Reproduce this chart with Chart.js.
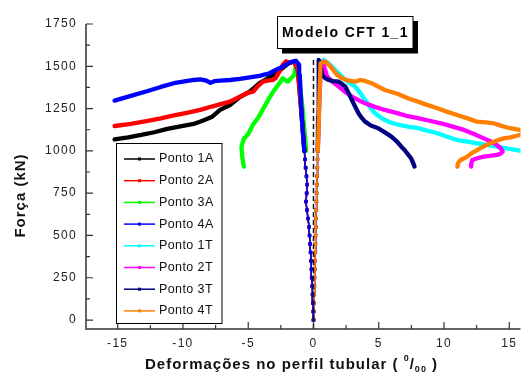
<!DOCTYPE html>
<html><head><meta charset="utf-8">
<script src="https://cdn.jsdelivr.net/npm/chart.js@4.4.1/dist/chart.umd.min.js"></script>
<style>html,body{margin:0;padding:0;background:#fff;overflow:hidden}#wrap{width:523px;height:373px}</style>
</head><body><div id="wrap"><canvas id="c" width="523" height="373"></canvas></div>
<script>
// ---- data (strain ‰, force kN) ----
const seriesNames = ['Ponto 1A','Ponto 2A','Ponto 3A','Ponto 4A','Ponto 1T','Ponto 2T','Ponto 3T','Ponto 4T'];
const seriesColors = ['#000000','#ff0000','#00ff00','#0000ff','#00ffff','#ff00ff','#000080','#ff8000'];
const xTicks = [-15,-10,-5,0,5,10,15];
const xMinorTicks = [-12.5,-7.5,-2.5,2.5,7.5,12.5];
const yTicks = [0,250,500,750,1000,1250,1500,1750];
const yMinorTicks = [125,375,625,875,1125,1375,1625];

const elasticA = [[0,0],[-0.02,50],[-0.04,100],[-0.07,150],[-0.10,200],[-0.13,250],[-0.16,300],[-0.19,350],[-0.22,400],[-0.26,450],[-0.30,500],[-0.34,550],[-0.42,600],[-0.50,650],[-0.58,700],[-0.52,750],[-0.49,800],[-0.54,850],[-0.60,900],[-0.65,950],[-0.70,1000]];
const elasticT = [[0,0],[0.02,50],[0.03,100],[0.05,150],[0.06,200],[0.08,250],[0.10,300],[0.11,350],[0.13,400],[0.14,450],[0.16,500],[0.18,550],[0.19,600],[0.21,650],[0.22,700],[0.24,750],[0.26,800],[0.27,850],[0.29,900],[0.31,950],[0.33,1000]];

const post1A = [[-0.95,1250],[-1.2,1480],[-1.48,1528],[-1.85,1522],[-2.36,1490],[-2.8,1460],[-3.12,1449],[-3.6,1425],[-4.13,1400],[-4.89,1350],[-5.64,1318],[-6.4,1271],[-7.16,1242],[-7.8,1200],[-8.45,1179],[-9.18,1159],[-10.2,1145],[-11.2,1130],[-12.2,1110],[-13.2,1094],[-14.2,1080],[-15.24,1068]];
const post2A = [[-0.95,1250],[-1.2,1480],[-1.48,1528],[-1.86,1518],[-2.1,1530],[-2.36,1508],[-2.6,1470],[-2.9,1430],[-3.12,1419],[-3.5,1415],[-3.88,1409],[-4.3,1380],[-4.6,1352],[-5.14,1340],[-5.64,1320],[-6.4,1291],[-6.9,1281],[-7.8,1262],[-8.67,1242],[-9.7,1225],[-10.7,1210],[-11.7,1192],[-12.7,1177],[-14.0,1160],[-15.24,1147]];
const post3A = [[-0.55,1000],[-0.9,1300],[-1.3,1520],[-1.48,1449],[-1.98,1409],[-2.36,1429],[-2.61,1400],[-3.0,1360],[-3.4,1310],[-3.88,1245],[-4.2,1200],[-4.64,1155],[-5.0,1100],[-5.35,1070],[-5.52,1025],[-5.45,960],[-5.34,907]];
const post4A = [[-0.9,1200],[-1.05,1450],[-1.1,1508],[-1.35,1533],[-1.7,1525],[-2.0,1515],[-2.36,1498],[-2.9,1478],[-3.37,1459],[-4.13,1443],[-5.64,1425],[-6.4,1419],[-7.16,1415],[-7.6,1412],[-7.9,1402],[-8.2,1415],[-8.67,1423],[-9.18,1419],[-10.0,1410],[-10.7,1400],[-11.7,1378],[-12.7,1354],[-14.0,1325],[-15.24,1297]];
const post1T = [[0.4,1200],[0.55,1500],[0.8,1538],[1.1,1520],[1.42,1498],[1.9,1460],[2.44,1419],[2.8,1400],[3.2,1380],[3.6,1340],[3.95,1301],[4.3,1262],[4.71,1222],[5.1,1200],[5.47,1183],[6.0,1165],[6.48,1155],[7.23,1143],[8.0,1134],[8.7,1120],[9.5,1104],[10.2,1085],[11.0,1064],[11.8,1055],[12.54,1045],[13.3,1035],[14.05,1025],[14.9,1013],[15.8,1001],[16.5,990]];
const post2T = [[0.4,1200],[0.55,1480],[0.67,1528],[0.85,1490],[1.05,1439],[1.5,1405],[1.93,1380],[2.4,1350],[2.94,1321],[3.45,1300],[3.95,1281],[4.7,1260],[5.47,1242],[6.48,1222],[7.23,1205],[8.0,1193],[8.9,1178],[9.76,1163],[10.6,1145],[11.53,1124],[12.3,1100],[13.05,1074],[13.6,1055],[14.05,1035],[14.4,1010],[14.5,995],[14.3,982],[14.05,976],[13.5,970],[13.05,966],[12.6,958],[12.16,946],[12.1,925],[12.08,907]];
const post3T = [[0.35,1200],[0.38,1450],[0.42,1538],[0.55,1500],[0.67,1449],[0.9,1430],[1.17,1419],[1.5,1412],[1.93,1409],[2.2,1395],[2.44,1380],[2.7,1340],[2.94,1301],[3.2,1260],[3.45,1222],[3.7,1195],[3.95,1173],[4.4,1150],[4.96,1134],[5.5,1108],[5.97,1084],[6.4,1055],[6.73,1025],[6.98,1005],[7.23,980],[7.48,956],[7.6,935],[7.74,907]];
const post4T = [[0.38,1100],[0.45,1300],[0.54,1518],[0.92,1528],[1.42,1488],[1.8,1450],[2.18,1429],[2.7,1415],[3.2,1409],[3.58,1419],[4.0,1412],[4.45,1400],[5.0,1378],[5.47,1360],[6.48,1336],[7.23,1311],[8.0,1291],[8.7,1272],[9.5,1252],[10.2,1232],[11.0,1212],[11.8,1192],[12.5,1173],[13.2,1168],[13.8,1163],[14.4,1148],[15.06,1134],[15.8,1124],[16.6,1110],[15.8,1094],[15.1,1080],[14.56,1074],[14.0,1060],[13.55,1045],[13.0,1025],[12.54,1005],[12.1,985],[11.78,966],[11.5,955],[11.27,946],[11.1,930],[11.02,907]];
const zeroLine = [[0,-53],[0,1555]];

const elasticParts = [elasticA,elasticA,elasticA,elasticA,elasticT,elasticT,elasticT,elasticT];
const postParts = [post1A,post2A,post3A,post4A,post1T,post2T,post3T,post4T];
const drawOrder = [4,3,5,1,8,7,6,2];

const toXY = arr => arr.map(p => ({x:p[0], y:p[1]}));

const datasets = seriesNames.map((name,i) => {
  const nEl = elasticParts[i].length;
  return {
    label: name,
    data: toXY(elasticParts[i].concat(postParts[i])),
    borderColor: seriesColors[i],
    backgroundColor: seriesColors[i],
    showLine: true,
    borderJoinStyle: 'round',
    borderCapStyle: 'round',
    pointStyle: 'rect',
    pointRadius: ctx => ctx.dataIndex < nEl ? 2 : 0,
    pointBorderWidth: 0.5,
    pointHoverRadius: 0,
    borderWidth: 4.3,
    segment: { borderWidth: ctx => ctx.p1DataIndex < nEl ? 1.5 : 4.3 },
    order: drawOrder[i]
  };
});
datasets.push({
  label: 'zero', data: toXY(zeroLine), borderColor: '#111', borderWidth: 1.5,
  borderDash: [5,3], showLine: true, pointRadius: 0, order: 0
});

const decor = {
  id: 'decor',
  beforeDraw(chart){ chart.ctx.letterSpacing = '1.3px'; },
  afterDatasetsDraw(chart){
    const ctx = chart.ctx, xs = chart.scales.x, ys = chart.scales.y, ca = chart.chartArea;
    ctx.save();
    ctx.letterSpacing = '0px';
    // axes
    ctx.strokeStyle = '#333'; ctx.lineWidth = 1.5;
    ctx.beginPath();
    ctx.moveTo(ca.left, ys.getPixelForValue(1750));
    ctx.lineTo(ca.left, ca.bottom);
    ctx.lineTo(ca.right, ca.bottom);
    ctx.stroke();
    ctx.lineWidth = 1.2;
    ctx.beginPath();
    xTicks.forEach(v => { const p = xs.getPixelForValue(v); ctx.moveTo(p, ca.bottom); ctx.lineTo(p, ca.bottom - 7); });
    xMinorTicks.forEach(v => { const p = xs.getPixelForValue(v); ctx.moveTo(p, ca.bottom); ctx.lineTo(p, ca.bottom - 4); });
    yTicks.forEach(v => { const p = ys.getPixelForValue(v); ctx.moveTo(ca.left, p); ctx.lineTo(ca.left + 7, p); });
    yMinorTicks.forEach(v => { const p = ys.getPixelForValue(v); ctx.moveTo(ca.left, p); ctx.lineTo(ca.left + 4, p); });
    ctx.stroke();

    // legend box
    const lx = 116.5, ly = 143.5, lw = 105.5, lh = 180;
    ctx.fillStyle = '#fff'; ctx.fillRect(lx, ly, lw, lh);
    ctx.strokeStyle = '#000'; ctx.lineWidth = 1; ctx.strokeRect(lx, ly, lw, lh);
    ctx.font = '12.5px "Liberation Sans", Arial, sans-serif';
    ctx.letterSpacing = '0.4px';
    ctx.textBaseline = 'middle'; ctx.textAlign = 'left';
    seriesNames.forEach((name,i) => {
      const y = 159 + i*21.7;
      ctx.strokeStyle = seriesColors[i]; ctx.lineWidth = 1.5;
      ctx.beginPath(); ctx.moveTo(124, y); ctx.lineTo(155, y); ctx.stroke();
      ctx.fillStyle = seriesColors[i]; ctx.fillRect(138, y-1.5, 3, 3);
      ctx.fillStyle = '#111'; ctx.fillText(name, 159, y);
    });

    // title box
    ctx.fillStyle = '#000'; ctx.fillRect(282, 21, 136, 32.5);
    ctx.fillStyle = '#fff'; ctx.fillRect(277, 16, 136, 32.5);
    ctx.strokeStyle = '#000'; ctx.lineWidth = 1; ctx.strokeRect(277.5, 16.5, 135.5, 32);
    ctx.fillStyle = '#000';
    ctx.font = 'bold 14px "Liberation Sans", Arial, sans-serif';
    ctx.letterSpacing = '1.4px';
    ctx.textAlign = 'center'; ctx.textBaseline = 'middle';
    ctx.fillText('Modelo CFT 1_1', 345.5, 33);

    // x title
    ctx.textAlign = 'left'; ctx.textBaseline = 'alphabetic';
    ctx.fillStyle = '#111';
    const big = 'bold 15px "Liberation Sans", Arial, sans-serif';
    const small = 'bold 9px "Liberation Sans", Arial, sans-serif';
    let x = 145; const base = 369;
    const parts = [['Deformações no perfil tubular ( ', big, 0], ['0', small, -8], ['/', big, 0], ['00', small, 3], [' )', big, 0]];
    parts.forEach(([t,f,dy]) => {
      ctx.font = f; ctx.letterSpacing = '1px';
      ctx.fillText(t, x, base + dy);
      x += ctx.measureText(t).width;
    });

    // y title
    ctx.save();
    ctx.translate(25, 195.5);
    ctx.rotate(-Math.PI/2);
    ctx.font = big; ctx.letterSpacing = '1px';
    ctx.textAlign = 'center'; ctx.textBaseline = 'alphabetic';
    ctx.fillText('Força (kN)', 0, 0);
    ctx.restore();

    ctx.restore();
  }
};

new Chart(document.getElementById('c'), {
  type: 'scatter',
  data: { datasets },
  options: {
    responsive: false, animation: false, devicePixelRatio: 1,
    layout: { padding: { top: 24, left: 0, right: 0, bottom: 0 } },
    plugins: { legend: { display: false }, tooltip: { enabled: false } },
    scales: {
      x: {
        type: 'linear', min: -17.43, max: 15.86,
        grid: { display: false, drawTicks: false }, border: { display: false },
        afterBuildTicks: s => { s.ticks = xTicks.map(v => ({value: v})); },
        afterFit: s => { s.height = 44; s.paddingLeft = 0; s.paddingRight = 0; },
        ticks: { padding: 7, color: '#222', callback: v => String(v), font: { family: '"Liberation Sans", Arial, sans-serif', size: 12 }, maxRotation: 0, autoSkip: false }
      },
      y: {
        type: 'linear', min: -53, max: 1750,
        grid: { display: false, drawTicks: false }, border: { display: false },
        afterBuildTicks: s => { s.ticks = yTicks.map(v => ({value: v})); },
        afterFit: s => { s.width = 86; s.paddingTop = 0; s.paddingBottom = 0; },
        ticks: { padding: 9, color: '#222', callback: v => String(v), font: { family: '"Liberation Sans", Arial, sans-serif', size: 12 }, autoSkip: false }
      }
    }
  },
  plugins: [decor]
});
</script>
</body></html>
